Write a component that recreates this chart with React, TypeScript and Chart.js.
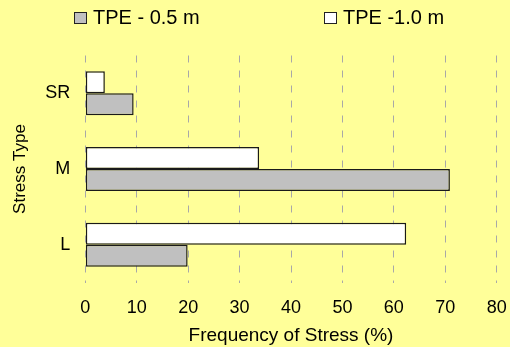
import React, { useEffect, useRef } from "react";
import { Chart, registerables } from "chart.js";

Chart.register(...registerables);

const categories = ["SR", "M", "L"];
const seriesLabels = ["TPE - 0.5 m", "TPE -1.0 m"];
const series05 = [9.4, 70.9, 19.9];
const series10 = [3.8, 33.8, 62.4];
const xTickValues = [0, 10, 20, 30, 40, 50, 60, 70, 80];

const FONT = '"Liberation Sans", Arial, sans-serif';
const BG = "#FFFF99";

const bgPlugin = {
  id: "bgFill",
  beforeDraw(chart: any) {
    const { ctx, width, height } = chart;
    ctx.save();
    ctx.fillStyle = BG;
    ctx.fillRect(0, 0, width, height);
    ctx.restore();
  },
};

const legendPlugin = {
  id: "customLegend",
  afterDraw(chart: any) {
    const ctx = chart.ctx;
    ctx.save();
    ctx.font = `20px ${FONT}`;
    ctx.textBaseline = "alphabetic";
    ctx.textAlign = "left";
    chart.data.datasets.forEach((ds: any, i: number) => {
      const x = 74 + i * 250;
      ctx.fillStyle = ds.backgroundColor;
      ctx.fillRect(x + 0.5, 12.5, 12, 11);
      ctx.strokeStyle = "#222";
      ctx.lineWidth = 1;
      ctx.strokeRect(x + 0.5, 12.5, 12, 11);
      ctx.fillStyle = "#000";
      ctx.fillText(ds.label, x + 19, 23.5);
    });
    ctx.restore();
  },
};

export default function App() {
  const ref = useRef<HTMLCanvasElement | null>(null);

  useEffect(() => {
    document.body.style.margin = "0";
    if (!ref.current) return;
    const chart = new Chart(ref.current, {
      type: "bar",
      data: {
        labels: categories,
        datasets: [
          {
            label: seriesLabels[0],
            data: series05,
            backgroundColor: "#C0C0C0",
            borderColor: "#1a1a1a",
            borderWidth: 1.5,
            borderSkipped: false,
            order: 2,
          },
          {
            label: seriesLabels[1],
            data: series10,
            backgroundColor: "#FFFFFF",
            borderColor: "#1a1a1a",
            borderWidth: 1.5,
            borderSkipped: false,
            order: 1,
          },
        ],
      },
      options: {
        indexAxis: "y",
        animation: false,
        responsive: true,
        maintainAspectRatio: false,
        layout: { padding: { top: 55.5, right: 0, left: 0, bottom: 0 } },
        datasets: {
          bar: { categoryPercentage: 0.581, barPercentage: 1 },
        },
        plugins: {
          legend: { display: false },
          tooltip: { enabled: false },
        },
        scales: {
          x: {
            type: "linear",
            min: 0,
            max: 80,
            afterBuildTicks(scale: any) {
              scale.ticks = xTickValues.map((v) => ({ value: v }));
            },
            afterFit(scale: any) {
              scale.height = 64.5;
              scale.paddingRight = 13.3;
              scale.paddingLeft = 0;
            },
            grid: {
              color: "#A8A8A8",
              lineWidth: 1,
              drawTicks: false,
            },
            border: { display: false, dash: [7, 8] },
            ticks: {
              padding: 15,
              color: "#000",
              font: { family: FONT, size: 18 },
            },
            title: {
              display: true,
              text: "Frequency of Stress (%)",
              color: "#000",
              font: { family: FONT, size: 19 },
              padding: { top: 0, bottom: 0 },
            },
          },
          y: {
            type: "category",
            afterFit(scale: any) {
              scale.width = 85.3;
            },
            grid: { display: false, drawTicks: false },
            border: { display: false },
            ticks: {
              padding: 15,
              color: "#000",
              font: { family: FONT, size: 18 },
            },
            title: {
              display: true,
              text: "Stress Type",
              color: "#000",
              font: { family: FONT, size: 17 },
              padding: { top: 10, bottom: 0 },
            },
          },
        },
      },
      plugins: [bgPlugin, legendPlugin],
    } as any);
    return () => chart.destroy();
  }, []);

  return (
    <div style={{ position: "relative", width: 510, height: 347 }}>
      <canvas ref={ref} />
    </div>
  );
}
